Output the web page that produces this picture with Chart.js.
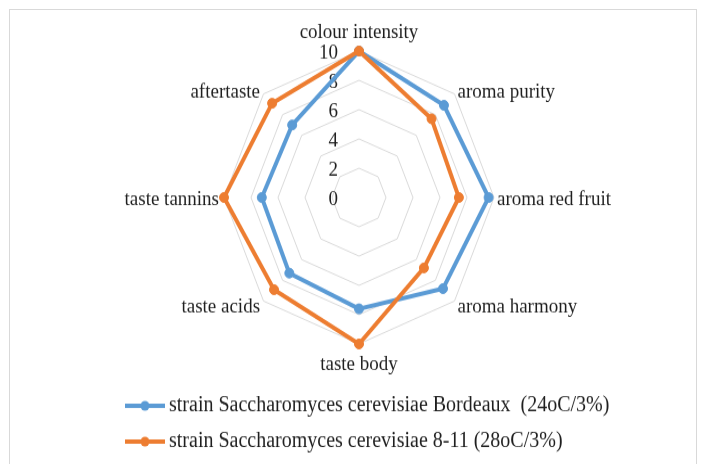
<!DOCTYPE html>
<html>
<head>
<meta charset="utf-8">
<script src="https://cdn.jsdelivr.net/npm/chart.js@4/dist/chart.umd.min.js"></script>
<style>
  html, body { margin: 0; padding: 0; background: #fff; overflow: hidden; }
  #frame { position: absolute; left: 9px; top: 9px; width: 688px; height: 470px;
           border: 1px solid #d9d9d9; box-sizing: border-box; }
  #wrap { position: absolute; left: 0; top: 0; width: 701px; height: 428px;
          transform: scaleY(1.085); transform-origin: 0 0; }
</style>
</head>
<body>
<div id="frame"></div>
<div id="wrap"><canvas id="c" width="701" height="428"></canvas></div>
<script>
// Sensory attributes scored for the two yeast strains
const categories = ['colour intensity', 'aroma purity', 'aroma red fruit', 'aroma harmony',
                    'taste body', 'taste acids', 'taste tannins', 'aftertaste'];
const bordeauxScores = [10, 8.9, 9.6, 8.8, 7.6, 7.3, 7.2, 7.0];
const strain811Scores = [10, 7.6, 7.4, 6.8, 10, 8.9, 10, 9.1];
const tickValues = [0, 2, 4, 6, 8, 10];
const seriesNames = ['strain Saccharomyces cerevisiae Bordeaux  (24oC/3%)',
                     'strain Saccharomyces cerevisiae 8-11 (28oC/3%)'];

const BLUE = '#5B9BD5';
const ORANGE = '#ED7D31';
const TEXT = '#1f1f1f';
const SERIF = '"Liberation Serif", "Times New Roman", serif';

// Tick numbers sit left of the vertical axis, under the data lines
const tickLabelPlugin = {
  id: 'tickLabels',
  beforeDatasetsDraw(chart) {
    const s = chart.scales.r, ctx = chart.ctx;
    ctx.save();
    ctx.font = '19px ' + SERIF;
    ctx.fillStyle = TEXT;
    ctx.textAlign = 'right';
    ctx.textBaseline = 'middle';
    tickValues.forEach(v => {
      const y = s.yCenter - s.getDistanceFromCenterForValue(v);
      ctx.fillText(String(v), s.xCenter - 21, y + 2);
    });
    ctx.restore();
  }
};

// Category names placed just outside each spoke end
const pointLabelPlugin = {
  id: 'catLabels',
  afterDatasetsDraw(chart) {
    const s = chart.scales.r, ctx = chart.ctx;
    ctx.save();
    ctx.font = '19px ' + SERIF;
    ctx.fillStyle = TEXT;
    ctx.textBaseline = 'middle';
    const n = categories.length;
    categories.forEach((name, i) => {
      const p = s.getPointPosition(i, s.drawingArea);
      let x = p.x, y = p.y;
      if (i === 0) { ctx.textAlign = 'center'; y -= 17; }
      else if (i === n / 2) { ctx.textAlign = 'center'; y += 19; }
      else if (i < n / 2) {
        ctx.textAlign = 'left'; x += 3;
        y += (i === n / 4) ? 2 : (i < n / 4 ? -2 : 6);
      } else {
        ctx.textAlign = 'right'; x -= (i === 3 * n / 4) ? 5 : 3.5;
        y += (i === 3 * n / 4) ? 2 : (i > 3 * n / 4 ? -2 : 6);
      }
      ctx.fillText(name, x, y);
    });
    ctx.restore();
  }
};

// Two-row legend: line with a round marker, then the series name
const legendPlugin = {
  id: 'rowLegend',
  afterDraw(chart) {
    const ctx = chart.ctx;
    const rows = [374, 407];
    ctx.save();
    ctx.font = '20px ' + SERIF;
    ctx.textBaseline = 'middle';
    ctx.textAlign = 'left';
    chart.data.datasets.forEach((ds, i) => {
      const y = rows[i];
      ctx.strokeStyle = ds.borderColor;
      ctx.lineWidth = 4;
      ctx.beginPath();
      ctx.moveTo(125, y);
      ctx.lineTo(165, y);
      ctx.stroke();
      ctx.fillStyle = ds.borderColor;
      ctx.beginPath();
      ctx.arc(145, y, 4.5, 0, Math.PI * 2);
      ctx.fill();
      ctx.fillStyle = TEXT;
      ctx.fillText(ds.label, 169, y);
    });
    ctx.restore();
  }
};

new Chart(document.getElementById('c'), {
  type: 'radar',
  data: {
    labels: categories,
    datasets: [
      {
        label: seriesNames[0],
        data: bordeauxScores,
        borderColor: BLUE,
        backgroundColor: BLUE,
        pointBackgroundColor: BLUE,
        pointBorderColor: BLUE,
        borderWidth: 4,
        pointRadius: 4.5,
        pointBorderWidth: 1,
        fill: false,
        order: 1
      },
      {
        label: seriesNames[1],
        data: strain811Scores,
        borderColor: ORANGE,
        backgroundColor: ORANGE,
        pointBackgroundColor: ORANGE,
        pointBorderColor: ORANGE,
        borderWidth: 4,
        pointRadius: 4.5,
        pointBorderWidth: 1,
        fill: false,
        order: 0
      }
    ]
  },
  options: {
    responsive: false,
    devicePixelRatio: 1,
    animation: false,
    layout: { padding: { left: 224, right: 207, top: 47, bottom: 111 } },
    plugins: { legend: { display: false }, tooltip: { enabled: false } },
    elements: { line: { tension: 0 } },
    scales: {
      r: {
        min: 0,
        max: 10,
        ticks: { stepSize: 2, display: false },
        grid: { color: '#d9d9d9', lineWidth: 1, circular: false },
        angleLines: { display: false },
        pointLabels: { display: false }
      }
    }
  },
  plugins: [tickLabelPlugin, pointLabelPlugin, legendPlugin]
});
</script>
</body>
</html>
